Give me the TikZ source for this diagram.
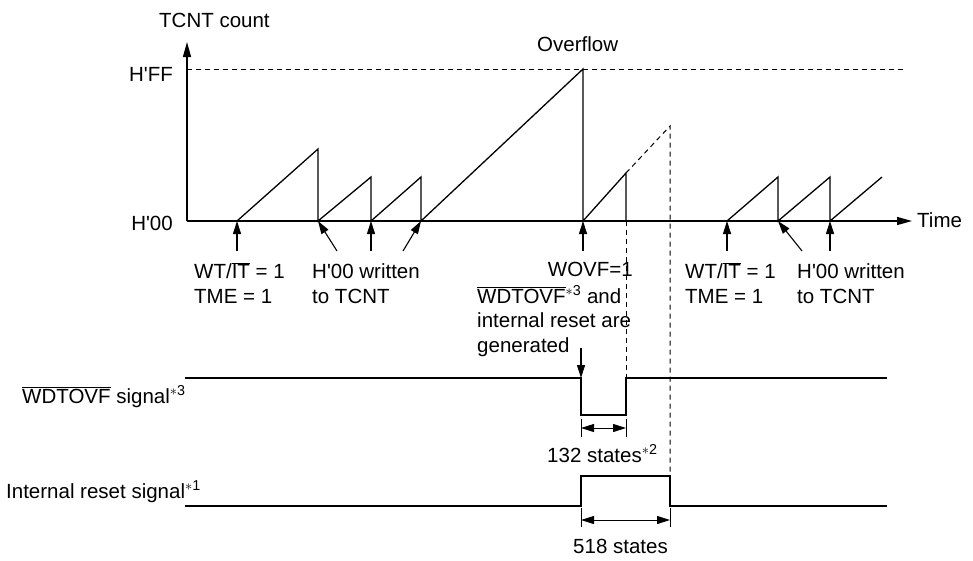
\documentclass[tikz,border=0pt]{standalone}
\usepackage{fontspec}
\setmainfont{Liberation Sans}[Ligatures=TeXOff]
\usetikzlibrary{arrows.meta, calc}

\newcommand{\ovl}[1]{$\overline{\mbox{#1}}$}
\newcommand{\fnote}[1]{\textsuperscript{$\ast$#1}}

\begin{document}
\begin{tikzpicture}[
    x=1pt, y=-1pt,
    every node/.style={font=\fontsize{20.5}{24.5}\selectfont, inner sep=0pt},
    ln/.style={line width=1.3pt, line join=miter},
    dsh/.style={line width=1pt, dash pattern=on 5pt off 4pt},
    axis/.style={ln, -{Triangle[length=15pt, width=8pt]}},
    ptr/.style={line width=1.1pt, -{Triangle[length=13pt, width=8pt]}},
    dim/.style={line width=1pt, {Triangle[length=13pt, width=8pt]}-{Triangle[length=13pt, width=8pt]}},
  ]
  \useasboundingbox (0,0) rectangle (973,560);

  % axes and count levels
  \coordinate (org) at (187,221);
  \draw[axis] (org) -- (187,42);
  \draw[axis] (org) -- (912,221);
  \draw[dsh] (187,69) -- (905,69);

  \node[anchor=base west] (tcnt) at (159,27) {TCNT count};
  \node[anchor=base east] (hff) at (173,81) {H'FF};
  \node[anchor=base east] (hzero) at (173,230) {H'00};
  \node[anchor=base west] (time) at (917,227) {Time};
  \node[anchor=base west] (ovf) at (537,51) {Overflow};

  % counter events on the time axis
  \coordinate (ev1) at (237,221);
  \coordinate (ev2) at (318,221);
  \coordinate (ev3) at (371,221);
  \coordinate (ev4) at (421,221);
  \coordinate (ev5) at (583,221);
  \coordinate (ev6) at (626,221);
  \coordinate (ev7) at (727,221);
  \coordinate (ev8) at (778,221);
  \coordinate (ev9) at (830,221);

  \draw[ln] (ev1) -- (318,149) -- (ev2) -- (371,177) -- (ev3) -- (421,177) -- (ev4)
    -- (583,69) -- (ev5) -- (626,173) -- (ev6);
  \draw[ln] (ev7) -- (778,177) -- (ev8) -- (830,177) -- (ev9) -- (882,177);
  \draw[dsh] (626,173) -- (670,126) -- (670,476);
  \draw[dsh] (ev6) -- (626,378);

  \draw[ptr] ($(ev1)+(0,30)$) -- (ev1);
  \draw[ptr] ($(ev2)+(19,30)$) -- (ev2);
  \draw[ptr] ($(ev3)+(0,30)$) -- (ev3);
  \draw[ptr] ($(ev4)+(-18,30)$) -- (ev4);
  \draw[ptr] ($(ev5)+(0,30)$) -- (ev5);
  \draw[ptr] ($(ev7)+(0,30)$) -- (ev7);
  \draw[ptr] ($(ev8)+(24,30)$) -- (ev8);
  \draw[ptr] ($(ev9)+(0,30)$) -- (ev9);

  % the base of a multi-line node is its last line
  \node[anchor=base west, align=left] (wtit1) at (194,303) {WT/\ovl{IT} = 1\\TME = 1};
  \node[anchor=base west, align=left] (wr1) at (312,303) {H'00 written\\to TCNT};
  \node[anchor=base east] (wovf) at (633,276) {WOVF=1};
  \node[anchor=base west, align=left] (gen) at (477,352) {\ovl{WDTOVF}\fnote{3} and\\internal reset are\\generated};
  \node[anchor=base west, align=left] (wtit2) at (685,303) {WT/\ovl{IT} = 1\\TME = 1};
  \node[anchor=base west, align=left] (wr2) at (797,303) {H'00 written\\to TCNT};

  % output signals
  \coordinate (wfall) at (581,378);
  \draw[ln] (185,378) -- (wfall) -- (581,415) -- (626,415) -- (626,378) -- (887,378);
  \draw[ptr] ($(wfall)+(0,-30)$) -- (wfall);
  \draw[ln] (185,506) -- (581,506) -- (581,476) -- (670,476) -- (670,506) -- (887,506);

  \node[anchor=base west] (sigw) at (22,403) {\ovl{WDTOVF} signal\fnote{3}};
  \node[anchor=base west] (sigr) at (6,498) {Internal reset signal\fnote{1}};

  \draw[line width=1pt] (581,419) -- (581,437) (626,419) -- (626,437);
  \draw[dim] (581,428) -- (626,428);
  \node[anchor=base west] (st132) at (547,462) {132 states\fnote{2}};

  \draw[line width=1pt] (581,508) -- (581,527) (670,508) -- (670,527);
  \draw[dim] (581,520) -- (670,520);
  \node[anchor=base west] (st518) at (573,553) {518 states};

\end{tikzpicture}
\end{document}
